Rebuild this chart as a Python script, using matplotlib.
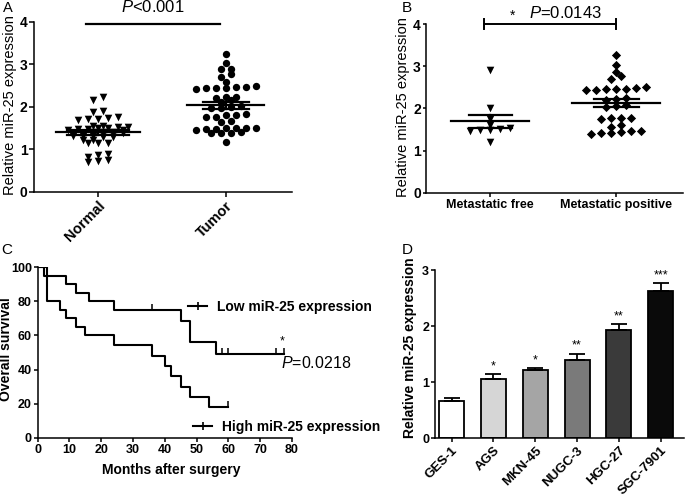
import numpy as np
import matplotlib.pyplot as plt
from matplotlib.lines import Line2D

plt.rcParams['font.family'] = ['Liberation Sans', 'DejaVu Sans']
plt.rcParams['mathtext.fontset'] = 'custom'
plt.rcParams['mathtext.it'] = 'Liberation Sans:italic'
plt.rcParams['mathtext.rm'] = 'Liberation Sans'
plt.rcParams['axes.linewidth'] = 1.1
plt.rcParams['xtick.major.width'] = 1.1
plt.rcParams['ytick.major.width'] = 1.1
plt.rcParams['xtick.major.size'] = 3
plt.rcParams['ytick.major.size'] = 3
plt.rcParams['xtick.major.pad'] = 1.5
plt.rcParams['ytick.major.pad'] = 1.2

# ---- panel A: tissue expression
normal = [2.16, 2.23, 1.88, 1.91, 1.69, 1.70, 1.71, 1.74, 1.76,
          1.52, 1.53, 1.54, 1.55, 1.45, 1.46, 1.47, 1.48, 1.50, 1.50,
          1.35, 1.36, 1.37, 1.38, 1.39, 1.40, 1.41, 1.41,
          1.29, 1.29, 1.30, 1.31, 1.32, 1.22, 1.22, 1.14, 1.14, 1.14,
          0.82, 0.86, 0.88, 0.69, 0.72, 0.75]
tumor = [3.25, 3.03, 2.88, 2.88, 2.70, 2.77, 2.59,
         2.42, 2.43, 2.44, 2.45, 2.46, 2.47, 2.48,
         2.20, 2.24, 2.24, 2.12, 2.15, 1.96, 1.98, 2.00, 2.02,
         1.76, 1.76, 1.80, 1.80, 1.83, 1.63, 1.66,
         1.46, 1.47, 1.48, 1.49, 1.49, 1.50, 1.51,
         1.37, 1.38, 1.39, 1.40, 1.18]
groups_a = ['Normal', 'Tumor']

# ---- panel B: metastasis
met_free = [2.90, 2.01, 1.75, 1.62, 1.47, 1.48, 1.49, 1.52, 1.55, 1.20]
met_pos = [3.27, 3.03, 2.87, 2.69, 2.76,
           2.43, 2.44, 2.45, 2.46, 2.47, 2.48, 2.50,
           2.20, 2.22, 2.25, 2.04, 2.06, 2.08,
           1.76, 1.78, 1.78, 1.78, 1.57, 1.62,
           1.40, 1.42, 1.43, 1.44, 1.46, 1.47]
groups_b = ['Metastatic free', 'Metastatic positive']

# ---- panel C: Kaplan-Meier
low_t = [0, 2, 9, 12, 16, 24, 45, 48, 56, 77.5]
low_s = [100, 95, 90, 85, 80, 75, 68.75, 56.25, 49.2, 49.2]
low_cens = [36, 58, 60, 75, 77.5]
high_t = [0, 3, 7, 9, 12, 15, 24, 36, 40, 42, 45, 48, 54, 60]
high_s = [100, 80, 75, 70, 65, 60, 54.5, 48, 42, 36, 30, 24, 18, 18]
high_cens = [60]

# ---- panel D: cell lines
cell_lines = ['GES-1', 'AGS', 'MKN-45', 'NUGC-3', 'HGC-27', 'SGC-7901']
cell_expr = [0.66, 1.06, 1.21, 1.39, 1.93, 2.63]
cell_err = [0.05, 0.09, 0.05, 0.12, 0.10, 0.14]
cell_sig = ['', '*', '*', '**', '**', '***']
bar_colors = ['white', '#d6d6d6', '#a5a5a5', '#7a7a7a', '#3a3a3a', '#0a0a0a']


def row_offsets(ax, values, dx_px, row_h):
    '''
    GraphPad-like scatter: values closer than row_h form one row,
    each row spread symmetrically with dx_px between markers
    '''
    fig = ax.figure
    box = ax.get_position()
    w_px = box.width * fig.get_figwidth() * fig.dpi
    xlo, xhi = ax.get_xlim()
    dx = dx_px * (xhi - xlo) / w_px
    values = np.asarray(values)
    order = np.argsort(values)
    offs = np.zeros(len(values))
    rows = []
    for i in order:
        if rows and values[i] - values[rows[-1][0]] <= row_h + 1e-9:
            rows[-1].append(i)
        else:
            rows.append([i])
    for row in rows:
        k = len(row)
        for j, i in enumerate(row):
            offs[i] = (j - (k - 1) / 2.0) * dx
    return offs


def mean_sem(ax, pos, values, wmean, wsem):
    '''
    GraphPad style mean line with SEM whiskers
    '''
    v = np.asarray(values)
    m = v.mean()
    sem = v.std(ddof=1) / np.sqrt(len(v))
    ax.plot([pos - wmean, pos + wmean], [m, m], color='black', lw=1.6, zorder=4)
    for yv in (m - sem, m + sem):
        ax.plot([pos - wsem, pos + wsem], [yv, yv], color='black', lw=1.6, zorder=4)
    ax.plot([pos, pos], [m - sem, m + sem], color='black', lw=1.6, zorder=4)


def style_axis(ax):
    for side in ('top', 'right'):
        ax.spines[side].set_visible(False)
    ax.tick_params(direction='out')


def step_value(times, surv, t):
    idx = np.searchsorted(times, t, side='right') - 1
    return surv[idx]


fig = plt.figure(figsize=(6.85, 4.97), dpi=100)

# ================= A
axA = fig.add_axes([0.0496, 0.6143, 0.3767, 0.342])
style_axis(axA)
axA.tick_params(length=3.5)
axA.set_xlim(-0.5, 1.52)
axA.set_ylim(0, 4)
axA.set_yticks([0, 1, 2, 3, 4])
axA.set_xticks([0, 1])
axA.set_xticklabels(groups_a, rotation=45, ha='right', rotation_mode='anchor',
                    fontsize=10.5, fontweight='bold')
for lab in axA.get_yticklabels():
    lab.set_fontweight('bold')
    lab.set_fontsize(10)
offA0 = row_offsets(axA, normal, 10, 0.075)
offA1 = row_offsets(axA, tumor, 10, 0.075)
axA.scatter(0 + offA0, normal, marker='v', s=30, color='black', lw=0, zorder=3)
axA.scatter(1 + offA1, tumor, marker='o', s=28, color='black', lw=0, zorder=3)
mean_sem(axA, 0, normal, 0.33, 0.24)
mean_sem(axA, 1, tumor, 0.30, 0.18)
axA.plot([-0.09, 0.96], [3.94, 3.94], color='black', lw=1.6, clip_on=False)
axA.text(0.43, 4.34, r'$\it{P}$<0.001', ha='center', va='center', fontsize=12, clip_on=False)
axA.set_ylabel('Relative miR-25 expression', fontsize=10.5)
axA.yaxis.set_label_coords(-0.066, 0.51)
fig.text(0.004, 0.997, 'A', fontsize=10.5, va='top', ha='left')

# ================= B
axB = fig.add_axes([0.6219, 0.6117, 0.3751, 0.34])
style_axis(axB)
axB.tick_params(axis='y', length=2.5)
axB.set_xlim(-0.51, 1.53)
axB.set_ylim(0, 4)
axB.set_yticks([0, 1, 2, 3, 4])
axB.set_xticks([0, 1])
axB.set_xticklabels(groups_b, fontsize=9, fontweight='bold')
for lab in axB.get_yticklabels():
    lab.set_fontweight('bold')
    lab.set_fontsize(10)
offB0 = row_offsets(axB, met_free, 10, 0.085)
offB1 = row_offsets(axB, met_pos, 10, 0.085)
axB.scatter(0 + offB0, met_free, marker='v', s=30, color='black', lw=0, zorder=3)
axB.scatter(1 + offB1, met_pos, marker='D', s=22, color='black', lw=0, zorder=3)
mean_sem(axB, 0, met_free, 0.31, 0.17)
mean_sem(axB, 1, met_pos, 0.35, 0.18)
axB.plot([-0.05, 1.0], [4.0, 4.0], color='black', lw=1.4, clip_on=False)
for xb in (-0.05, 1.0):
    axB.plot([xb, xb], [3.88, 4.12], color='black', lw=1.4, clip_on=False)
axB.text(0.18, 4.2, '*', ha='center', va='center', fontsize=10, clip_on=False)
axB.text(0.31, 4.26, r'$\it{P}$=0.0143', ha='left', va='center', fontsize=12, clip_on=False)
axB.set_ylabel('Relative miR-25 expression', fontsize=10.5)
axB.yaxis.set_label_coords(-0.062, 0.506)
fig.text(0.587, 0.998, 'B', fontsize=11, va='top', ha='left')

# ================= C
axC = fig.add_axes([0.055, 0.1193, 0.3713, 0.3429])
style_axis(axC)
axC.tick_params(length=3)
axC.set_xlim(0, 80)
axC.set_ylim(0, 100)
axC.set_xticks(np.arange(0, 81, 10))
axC.set_yticks(np.arange(0, 101, 20))
for lab in axC.get_xticklabels() + axC.get_yticklabels():
    lab.set_fontweight('bold')
    lab.set_fontsize(9)
axC.step(low_t, low_s, where='post', color='black', lw=1.5)
axC.step(high_t, high_s, where='post', color='black', lw=1.5)
axC.plot(low_cens, [step_value(low_t, low_s, t) + 1.5 for t in low_cens],
         ls='none', marker='|', ms=5, mew=1.1, color='black', clip_on=False)
axC.plot(high_cens, [step_value(high_t, high_s, t) + 1.5 for t in high_cens],
         ls='none', marker='|', ms=5, mew=1.1, color='black', clip_on=False)
axC.text(77, 56.5, '*', ha='center', va='center', fontsize=9)
axC.text(76.5, 43.6, r'$\it{P}$=0.0218', ha='left', va='center', fontsize=11.5, clip_on=False)
h_low = Line2D([], [], color='black', lw=1.5, marker='|', ms=6, mew=1.2)
h_high = Line2D([], [], color='black', lw=1.5, marker='|', ms=6, mew=1.2)
fig.legend([h_low], ['Low miR-25 expression'], loc='center left',
           bbox_to_anchor=(0.2745, 0.383), frameon=False, borderpad=0,
           borderaxespad=0, handlelength=1.4, handletextpad=0.7,
           numpoints=1, prop={'weight': 'bold', 'size': 10})
fig.legend([h_high], ['High miR-25 expression'], loc='center left',
           bbox_to_anchor=(0.2818, 0.1414), frameon=False, borderpad=0,
           borderaxespad=0, handlelength=1.4, handletextpad=0.7,
           numpoints=1, prop={'weight': 'bold', 'size': 10})
axC.set_ylabel('Overall survival', fontsize=10, fontweight='bold')
axC.yaxis.set_label_coords(-0.097, 0.52)
axC.set_xlabel('Months after surgery', fontsize=10, fontweight='bold')
axC.xaxis.set_label_coords(0.524, -0.148)
fig.text(0.002, 0.512, 'C', fontsize=11, va='top', ha='left')

# ================= D
axD = fig.add_axes([0.635, 0.1181, 0.363, 0.3386])
style_axis(axD)
axD.tick_params(length=3)
xpos = np.arange(len(cell_lines))
axD.bar(xpos, cell_expr, width=0.6, color=bar_colors, edgecolor='black', lw=1.3,
        yerr=[np.zeros(len(cell_err)), cell_err], capsize=6,
        error_kw={'elinewidth': 1.3, 'capthick': 1.3}, zorder=2)
for xi, val, err, sig in zip(xpos, cell_expr, cell_err, cell_sig):
    axD.text(xi, val + err + 0.03, sig, ha='center', va='bottom', fontsize=9)
axD.set_xlim(-0.4, 5.55)
axD.set_ylim(0, 3)
axD.set_yticks([0, 1, 2, 3])
axD.set_xticks(xpos)
axD.set_xticklabels(cell_lines, rotation=45, ha='right', rotation_mode='anchor',
                    fontsize=9.5, fontweight='bold')
for lab in axD.get_yticklabels():
    lab.set_fontweight('bold')
    lab.set_fontsize(9)
axD.set_ylabel('Relative miR-25 expression', fontsize=10, fontweight='bold')
axD.yaxis.set_label_coords(-0.072, 0.54)
fig.text(0.587, 0.512, 'D', fontsize=11, va='top', ha='left')

fig.savefig('out.png', dpi=100)
